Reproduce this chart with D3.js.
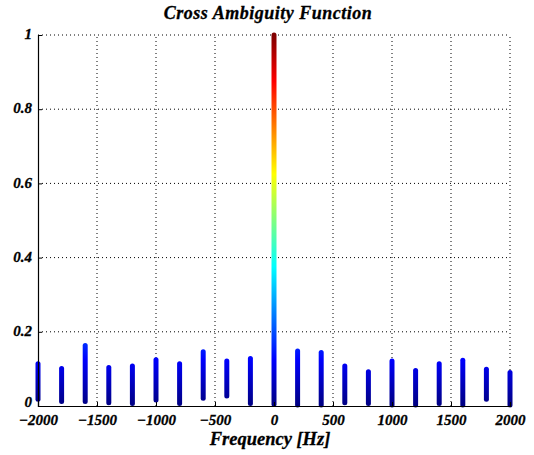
<!DOCTYPE html>
<html><head><meta charset="utf-8">
<script src="https://cdn.jsdelivr.net/npm/d3@7"></script>
<style>
body{margin:0;background:#fff;}
text{font-family:"Liberation Serif","Times New Roman",serif;font-weight:bold;font-style:italic;}
</style></head>
<body><svg id="c" width="534" height="455"></svg>
<script>
const freqs = [-2000,-1800,-1600,-1400,-1200,-1000,-800,-600,-400,-200,0,200,400,600,800,1000,1200,1400,1600,1800,2000];
const peakValues = [0.114,0.101,0.163,0.104,0.108,0.125,0.114,0.146,0.121,0.128,1.0,0.148,0.144,0.108,0.092,0.121,0.096,0.114,0.123,0.099,0.090];
const baseValues = [0.018,0.012,0.012,0.009,0.007,0.016,0.007,0.021,0.027,0.007,0.005,0.003,0.003,0.009,0.007,0.003,0.003,0.007,0.003,0.018,0.003];
const xTicks = [-2000,-1500,-1000,-500,0,500,1000,1500,2000];
const yTicks = [0,0.2,0.4,0.6,0.8,1];
const jetStops = [[0,"#000080"],[0.125,"#0000ff"],[0.375,"#00ffff"],[0.625,"#ffff00"],[0.875,"#ff0000"],[1,"#800000"]];

const W=534,H=455,m={l:38,r:24,t:35,b:49};
const svg=d3.select("#c");
const x=d3.scaleLinear().domain([-2000,2000]).range([m.l,W-m.r]);
const y=d3.scaleLinear().domain([0,1]).range([H-m.b,m.t]);

const grad=svg.append("defs").append("linearGradient").attr("id","jet")
  .attr("gradientUnits","userSpaceOnUse").attr("x1",0).attr("x2",0)
  .attr("y1",y(0)).attr("y2",y(1));
grad.selectAll("stop").data(jetStops).join("stop")
  .attr("offset",d=>d[0]).attr("stop-color",d=>d[1]);

// grid
const g=svg.append("g");
g.selectAll(".gx").data(xTicks.filter(d=>d!==-2000)).join("line")
  .attr("x1",d=>x(d)).attr("x2",d=>x(d)).attr("y1",y(0)).attr("y2",y(1))
  .attr("stroke","#000").attr("stroke-width",1).attr("stroke-dasharray","1,3");
g.selectAll(".gy").data(yTicks.filter(d=>d!==0)).join("line")
  .attr("x1",x(-2000)).attr("x2",x(2000)).attr("y1",d=>y(d)).attr("y2",d=>y(d))
  .attr("stroke","#000").attr("stroke-width",1).attr("stroke-dasharray","1,3");

// stems
svg.append("g").selectAll("line").data(freqs).join("line")
  .attr("x1",d=>x(d)).attr("x2",d=>x(d))
  .attr("y1",(d,i)=>y(baseValues[i])).attr("y2",(d,i)=>y(peakValues[i]))
  .attr("stroke","url(#jet)").attr("stroke-width",5).attr("stroke-linecap","round");

// axes
const ax=svg.append("g").attr("transform",`translate(0,${y(0)})`)
  .call(d3.axisBottom(x).tickValues(xTicks).tickSize(-4).tickPadding(8).tickFormat(d3.format("d")));
const ay=svg.append("g").attr("transform",`translate(${x(-2000)},0)`)
  .call(d3.axisLeft(y).tickValues(yTicks).tickSize(-4).tickPadding(6).tickFormat(d=>d===0||d===1?String(d):d3.format(".1f")(d)));
[ax,ay].forEach(a=>{
  a.selectAll("text").attr("font-size",15).attr("fill","#000").attr("stroke","#000").attr("stroke-width",0.3)
   .style("font-family","'Liberation Serif',serif").style("font-weight","bold").style("font-style","italic");
  a.select(".domain").attr("stroke","#000").attr("stroke-width",1.2);
  a.selectAll(".tick line").attr("stroke","#000");
});
ay.selectAll("text").attr("dy","0.25em");
ay.selectAll(".tick").filter(d=>d===0).select("text").attr("dy","0.05em");

svg.append("text").attr("x",268).attr("y",19).attr("text-anchor","middle").attr("font-size",18)
  .attr("letter-spacing",0.5).attr("stroke","#000").attr("stroke-width",0.3).text("Cross Ambiguity Function");
svg.append("text").attr("x",270).attr("y",445).attr("text-anchor","middle").attr("font-size",18.5)
  .attr("stroke","#000").attr("stroke-width",0.3).text("Frequency [Hz]");
</script></body></html>
